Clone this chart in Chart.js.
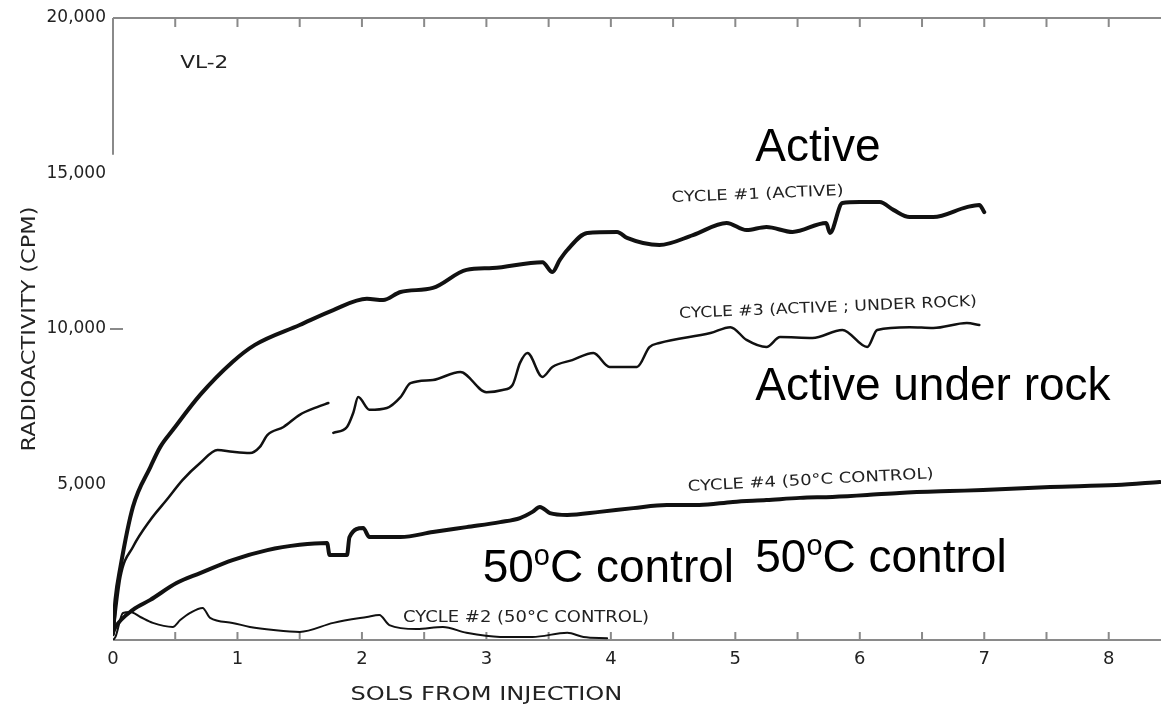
<!DOCTYPE html>
<html lang="en">
<head>
    <meta charset="UTF-8">
    <title>VL-2 Labeled Release</title>
    <script src="https://cdn.jsdelivr.net/npm/chart.js"></script>
    <style>
        html, body { margin: 0; padding: 0; background: #fff; }
        #wrap { position: relative; width: 1161px; height: 708px; }
    </style>
</head>
<body>
<div id="wrap"><canvas id="lrChart"></canvas></div>
<script>
    // values
    const cycle1Sols = [0, 0.02, 0.06, 0.16, 0.30, 0.38, 0.48, 0.70, 0.96, 1.14, 1.50, 1.77, 2.04, 2.17, 2.31, 2.57, 2.84, 3.05, 3.45, 3.53, 3.59, 3.65, 3.81, 4.05, 4.13, 4.39, 4.66, 4.93, 5.09, 5.25, 5.46, 5.73, 5.76, 5.86, 6.00, 6.16, 6.27, 6.40, 6.59, 6.86, 6.96, 7.00];
    const cycle1Cpm  = [200, 1300, 2350, 4280, 5560, 6210, 6750, 7880, 8940, 9490, 10130, 10610, 10970, 10930, 11190, 11320, 11900, 11960, 12150, 11830, 12220, 12540, 13090, 13120, 12930, 12700, 13020, 13410, 13180, 13280, 13120, 13410, 13090, 14050, 14080, 14080, 13830, 13600, 13600, 13920, 13990, 13760];

    const cycle3Sols = [0, 0.06, 0.16, 0.30, 0.43, 0.56, 0.70, 0.84, 0.96, 1.10, 1.18, 1.24, 1.37, 1.50, 1.64, 1.73, 1.75, 1.77, 1.88, 1.93, 1.97, 2.06, 2.20, 2.31, 2.39, 2.57, 2.79, 3.00, 3.13, 3.21, 3.27, 3.33, 3.45, 3.53, 3.69, 3.86, 3.99, 4.21, 4.31, 4.39, 4.80, 4.96, 5.09, 5.25, 5.36, 5.62, 5.86, 6.06, 6.14, 6.40, 6.59, 6.86, 6.96];
    const cycle3Cpm  = [160, 2030, 2990, 3860, 4500, 5150, 5690, 6110, 6050, 6010, 6210, 6590, 6850, 7240, 7490, 7620, null, 6660, 6850, 7300, 7810, 7400, 7460, 7810, 8260, 8360, 8620, 7970, 8040, 8200, 8910, 9230, 8460, 8780, 9000, 9230, 8780, 8780, 9420, 9550, 9870, 10060, 9650, 9420, 9740, 9710, 9970, 9420, 9970, 10060, 10030, 10190, 10130];

    const cycle4Sols = [0, 0.02, 0.16, 0.30, 0.51, 0.70, 0.96, 1.24, 1.50, 1.72, 1.74, 1.88, 1.90, 2.01, 2.06, 2.31, 2.57, 2.84, 3.11, 3.27, 3.37, 3.43, 3.51, 3.65, 3.91, 4.18, 4.45, 4.71, 4.98, 5.25, 5.52, 5.78, 6.06, 6.32, 6.72, 6.99, 7.53, 8.06, 8.41];
    const cycle4Cpm  = [250, 420, 970, 1290, 1830, 2150, 2570, 2890, 3060, 3120, 2730, 2730, 3310, 3600, 3310, 3310, 3470, 3630, 3790, 3920, 4120, 4280, 4080, 4020, 4120, 4240, 4340, 4340, 4440, 4500, 4570, 4600, 4660, 4730, 4790, 4820, 4920, 4980, 5080];

    const cycle2Sols = [0, 0.02, 0.08, 0.14, 0.22, 0.32, 0.48, 0.54, 0.62, 0.72, 0.78, 0.96, 1.10, 1.29, 1.50, 1.77, 2.04, 2.14, 2.22, 2.44, 2.65, 2.84, 3.11, 3.37, 3.65, 3.78, 3.97];
    const cycle2Cpm  = [0, 100, 870, 900, 740, 550, 420, 640, 870, 1030, 710, 550, 420, 320, 260, 550, 740, 800, 480, 350, 420, 230, 100, 100, 230, 100, 60];

    const xTickValues = [0, 0.5, 1, 1.5, 2, 2.5, 3, 3.5, 4, 4.5, 5, 5.5, 6, 6.5, 7, 7.5, 8];
    const yTickStep = 5000;

    // text placed on the plot, anchored in data units (sols, cpm)
    const notes = [
        { text: 'VL-2', sol: 0.54, cpm: 18400, size: 18, width: 48, angle: 0, scan: true },
        { text: 'CYCLE #1 (ACTIVE)', sol: 4.49, cpm: 14080, size: 15, width: 172, angle: -2.4, scan: true },
        { text: 'CYCLE #3 (ACTIVE ; UNDER ROCK)', sol: 4.55, cpm: 10350, size: 15, width: 298, angle: -2.4, scan: true },
        { text: 'CYCLE #4 (50°C CONTROL)', sol: 4.62, cpm: 4790, size: 15, width: 246, angle: -3, scan: true },
        { text: 'CYCLE #2 (50°C CONTROL)', sol: 2.33, cpm: 580, size: 15, width: 246, angle: 0, scan: true },
        { text: 'Active', sol: 5.16, cpm: 15400, size: 46, angle: 0 },
        { text: 'Active under rock', sol: 5.16, cpm: 7720, size: 46, angle: 0 }
    ];
    const controlNotes = [
        { sol: 2.97, cpm: 1860 },
        { sol: 5.16, cpm: 2190 }
    ];

    const scanFont = "'DejaVu Sans', sans-serif";
    const bigFont = "'Liberation Sans', Arial, sans-serif";

    function toPoints(xs, ys) {
        return xs.map((x, i) => ({ x: x, y: ys[i] }));
    }

    function drawText(ctx, text, x, y, size, width, angle, family) {
        ctx.save();
        ctx.translate(x, y);
        ctx.rotate(angle * Math.PI / 180);
        ctx.font = size + 'px ' + family;
        if (width) {
            const w = ctx.measureText(text).width;
            ctx.scale(width / w, 1);
        }
        ctx.fillText(text, 0, 0);
        ctx.restore();
    }

    const framePlugin = {
        id: 'frame',
        beforeDatasetsDraw(chart) {
            const ctx = chart.ctx;
            const a = chart.chartArea;
            const xs = chart.scales.x;
            const ys = chart.scales.y;
            ctx.save();
            ctx.strokeStyle = '#8a8a8a';
            ctx.lineWidth = 2;
            ctx.beginPath();
            ctx.moveTo(a.left, a.top); ctx.lineTo(a.right, a.top);
            ctx.moveTo(a.left, a.bottom); ctx.lineTo(a.right, a.bottom);
            ctx.moveTo(a.left, a.top); ctx.lineTo(a.left, ys.getPixelForValue(15600));
            xTickValues.forEach(v => {
                if (v === 0) return;
                const px = xs.getPixelForValue(v);
                ctx.moveTo(px, a.bottom); ctx.lineTo(px, a.bottom - 8);
                ctx.moveTo(px, a.top); ctx.lineTo(px, a.top + 9);
            });
            const py = ys.getPixelForValue(10000);
            ctx.moveTo(a.left - 3, py); ctx.lineTo(a.left + 10, py);
            ctx.stroke();
            ctx.restore();
        },
        afterDraw(chart) {
            const ctx = chart.ctx;
            const a = chart.chartArea;
            const xs = chart.scales.x;
            const ys = chart.scales.y;
            ctx.save();
            ctx.textBaseline = 'alphabetic';
            ctx.textAlign = 'left';
            notes.forEach(n => {
                ctx.fillStyle = n.scan ? '#222' : '#000';
                drawText(ctx, n.text, xs.getPixelForValue(n.sol), ys.getPixelForValue(n.cpm),
                    n.size, n.width, n.angle, n.scan ? scanFont : bigFont);
            });
            // "50oC control" with a raised small o
            ctx.fillStyle = '#000';
            controlNotes.forEach(n => {
                let x = xs.getPixelForValue(n.sol);
                const y = ys.getPixelForValue(n.cpm);
                ctx.font = '46px ' + bigFont;
                ctx.fillText('50', x, y);
                x += ctx.measureText('50').width;
                ctx.font = '29px ' + bigFont;
                ctx.fillText('o', x, y - 17);
                x += ctx.measureText('o').width;
                ctx.font = '46px ' + bigFont;
                ctx.fillText('C control', x, y);
            });
            // axis titles
            ctx.fillStyle = '#222';
            ctx.textAlign = 'center';
            ctx.font = '20px ' + scanFont;
            const tw = ctx.measureText('SOLS FROM INJECTION').width;
            ctx.save();
            ctx.translate(xs.getPixelForValue(3.0), a.bottom + 60);
            ctx.scale(272 / tw, 1);
            ctx.fillText('SOLS FROM INJECTION', 0, 0);
            ctx.restore();
            const yw = ctx.measureText('RADIOACTIVITY (CPM)').width;
            ctx.save();
            ctx.translate(35, (a.top + a.bottom) / 2);
            ctx.rotate(-Math.PI / 2);
            ctx.scale(245 / yw, 1);
            ctx.fillText('RADIOACTIVITY (CPM)', 0, 0);
            ctx.restore();
            ctx.restore();
        }
    };

    const lineStyle = (w) => ({
        borderColor: '#111',
        borderWidth: w,
        pointRadius: 0,
        cubicInterpolationMode: 'monotone',
        fill: false,
        spanGaps: false,
        borderJoinStyle: 'round',
        borderCapStyle: 'round'
    });

    const ctx = document.getElementById('lrChart').getContext('2d');
    const lrChart = new Chart(ctx, {
        type: 'line',
        data: {
            datasets: [
                Object.assign({ label: 'Cycle 1 (active)', data: toPoints(cycle1Sols, cycle1Cpm) }, lineStyle(4)),
                Object.assign({ label: 'Cycle 3 (active; under rock)', data: toPoints(cycle3Sols, cycle3Cpm) }, lineStyle(2.5)),
                Object.assign({ label: 'Cycle 4 (50°C control)', data: toPoints(cycle4Sols, cycle4Cpm) }, lineStyle(4)),
                Object.assign({ label: 'Cycle 2 (50°C control)', data: toPoints(cycle2Sols, cycle2Cpm) }, lineStyle(2))
            ]
        },
        options: {
            responsive: true,
            maintainAspectRatio: false,
            animation: false,
            layout: { padding: { top: 18, right: 0, bottom: 0, left: 0 } },
            plugins: {
                legend: { display: false },
                tooltip: { enabled: false }
            },
            scales: {
                x: {
                    type: 'linear',
                    min: 0,
                    max: 8.42,
                    grid: { display: false, drawTicks: false },
                    border: { display: false },
                    afterBuildTicks: s => { s.ticks = xTickValues.map(v => ({ value: v })); },
                    afterFit: s => { s.height = 68; },
                    ticks: {
                        autoSkip: false,
                        maxRotation: 0,
                        padding: 9,
                        color: '#222',
                        font: { size: 18, family: scanFont },
                        callback: v => Number.isInteger(v) ? String(v) : ''
                    }
                },
                y: {
                    min: 0,
                    max: 20000,
                    grid: { display: false, drawTicks: false },
                    border: { display: false },
                    afterFit: s => { s.width = 113; },
                    ticks: {
                        stepSize: yTickStep,
                        padding: 7,
                        color: '#222',
                        font: { size: 17, family: scanFont },
                        callback: v => v === 0 ? '' : v.toLocaleString('en-US')
                    }
                }
            }
        },
        plugins: [framePlugin]
    });
</script>
</body>
</html>
